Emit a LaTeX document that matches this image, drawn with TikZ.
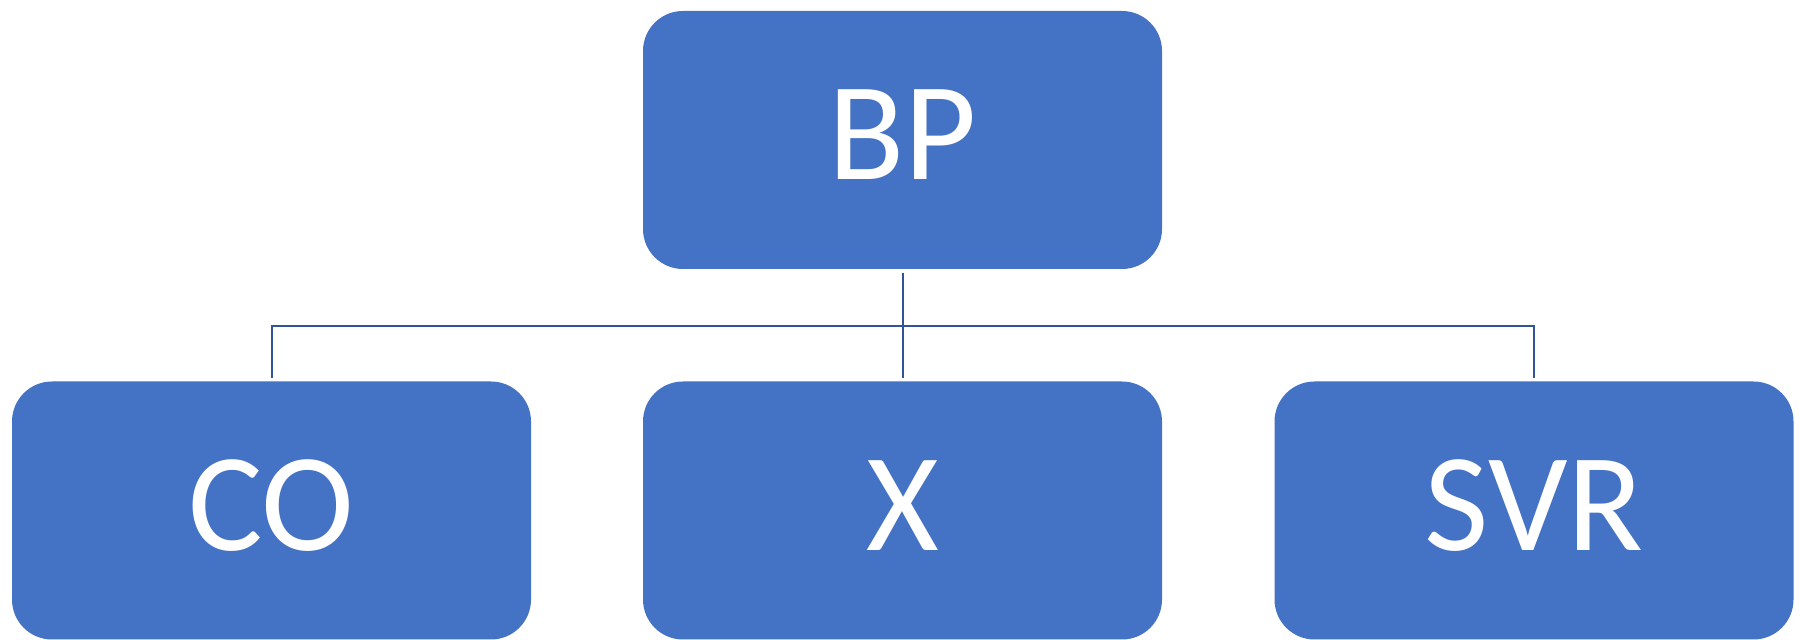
\documentclass[tikz,border=0pt]{standalone}
\usepackage{fontspec}
\setmainfont{Carlito}
\definecolor{boxblue}{HTML}{4472C4}
\definecolor{linkblue}{RGB}{47,85,151}
\begin{document}
\begin{tikzpicture}[x=0.5pt,y=-0.5pt,
  orgbox/.style={rectangle, rounded corners=20pt, fill=boxblue, draw=none,
    minimum width=259.5pt, minimum height=129pt, inner sep=0pt,
    text=white, font=\fontsize{70pt}{84pt}\selectfont, text depth=5pt},
  link/.style={draw=linkblue, line width=1pt, shorten <=2pt, shorten >=1.5pt}]
  \useasboundingbox (0,0) rectangle (1799,640);

  % parent and children
  \node[orgbox] (bp)  at (902.5,140)  {BP};
  \node[orgbox] (co)  at (271.5,510.5) {CO};
  \node[orgbox] (x)   at (902.5,510.5) {X};
  \node[orgbox] (svr) at (1534,510.5)  {SVR};

  % horizontal bus level
  \coordinate (bus) at (902.5,325.7);

  % elbow connectors from the parent to each child
  \draw[link] (bp.south) -- (bp.south |- bus) -| (co.north);
  \draw[link] (bp.south) -- (x.north);
  \draw[link] (bp.south) -- (bp.south |- bus) -| (svr.north);
\end{tikzpicture}
\end{document}
